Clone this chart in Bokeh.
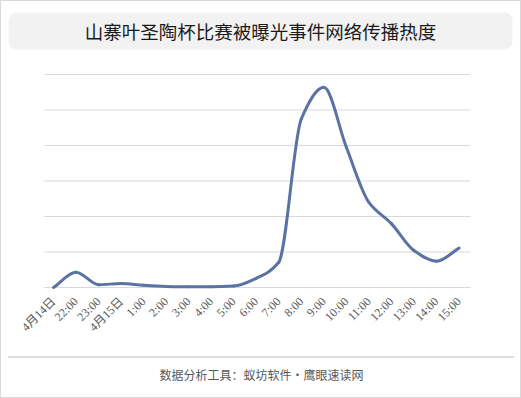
import numpy as np
from bokeh.plotting import figure
from bokeh.layouts import column
from bokeh.models import Range1d, FixedTicker, BoxAnnotation, Label, Arrow
from bokeh.embed import file_html
from bokeh.resources import INLINE

title_text = "山寨叶圣陶杯比赛被曝光事件网络传播热度"
footer_text = "数据分析工具：蚁坊软件・鹰眼速读网"
categories = ["4月14日", "22:00", "23:00", "4月15日", "1:00", "2:00", "3:00", "4:00",
              "5:00", "6:00", "7:00", "8:00", "9:00", "10:00", "11:00", "12:00",
              "13:00", "14:00", "15:00"]
heat = [0, 43, 8, 11, 6, 3, 2, 2, 4, 26, 71, 475, 564, 395, 240, 180, 104, 74, 111]
y_ticks = [0, 100, 200, 300, 400, 500, 600]

W = 519            # inner width (1px css border on each side)
H1, H2 = 345, 51   # main chart / footer heights
FH = 288           # frame height of main chart

def sx(page_x):
    return page_x - 1

def sy(page_y):
    return (1 + FH) - page_y

p = figure(width=W, height=H1, output_backend="svg", toolbar_location=None,
           x_range=Range1d(-2.308, 20.730), y_range=Range1d(-5.63, 805.6),
           min_border_left=0, min_border_right=0, min_border_top=0,
           min_border_bottom=H1 - FH)
p.outline_line_color = None
p.background_fill_color = "white"
p.border_fill_color = "white"
p.grid.visible = False
p.yaxis.visible = False

# horizontal gridlines limited to the plot area
p.segment(x0=[-0.40] * len(y_ticks), x1=[18.51] * len(y_ticks), y0=y_ticks, y1=y_ticks,
          line_color="#d9d9d9", line_width=1)

# smooth line through the points (monotone cubic -> Bezier segments)
xs = np.arange(len(heat), dtype=float)
ys = np.array(heat, dtype=float)
d = np.diff(ys)
m = np.zeros_like(ys)
m[0] = d[0]
m[-1] = d[-1]
for i in range(1, len(ys) - 1):
    if d[i - 1] * d[i] > 0:
        m[i] = 2.0 / (1.0 / d[i - 1] + 1.0 / d[i])
    else:
        m[i] = 0.0
cx0 = xs[:-1] + 1 / 3
cy0 = ys[:-1] + m[:-1] / 3
cx1 = xs[1:] - 1 / 3
cy1 = ys[1:] - m[1:] / 3
p.bezier(x0=xs[:-1], y0=ys[:-1], x1=xs[1:], y1=ys[1:], cx0=cx0, cy0=cy0, cx1=cx1, cy1=cy1,
         line_color="#5a73a3", line_width=3, line_cap="round")

p.xaxis.ticker = FixedTicker(ticks=list(range(len(categories))))
p.xaxis.major_label_overrides = {i: c for i, c in enumerate(categories)}
p.xaxis.major_label_orientation = np.pi / 4
p.xaxis.axis_line_color = None
p.xaxis.major_tick_line_color = None
p.xaxis.minor_tick_line_color = None
p.xaxis.major_label_text_font = "Liberation Serif, Noto Sans CJK SC"
p.xaxis.major_label_text_font_size = "12px"
p.xaxis.major_label_text_color = "#595959"
p.xaxis.major_label_standoff = 4

# title box
p.add_layout(BoxAnnotation(left=sx(8), right=sx(512), top=sy(12), bottom=sy(49),
                           left_units="screen", right_units="screen",
                           top_units="screen", bottom_units="screen",
                           fill_color="#f2f2f2", fill_alpha=1, line_color=None,
                           border_radius=8, level="underlay"))
p.add_layout(Label(x=sx(260), y=sy(30), x_units="screen", y_units="screen",
                   text=title_text, text_align="center", text_baseline="middle",
                   text_font="Noto Sans CJK SC", text_font_size="18.5px", text_color="#1a1a1a"))

# footer
f = figure(width=W, height=H2, output_backend="svg", toolbar_location=None,
           x_axis_type=None, y_axis_type=None, x_range=Range1d(0, W), y_range=Range1d(0, H2),
           min_border=0)
f.outline_line_color = None
f.grid.visible = False
f.border_fill_color = "white"
f.add_layout(Arrow(x_start=7, y_start=H2 - 10.5, x_end=513, y_end=H2 - 10.5,
                   start_units="screen", end_units="screen", start=None, end=None,
                   line_color="#808080", line_width=1, line_dash="1 1"))
f.add_layout(Label(x=260, y=H2 - 28, x_units="screen", y_units="screen",
                   text=footer_text, text_align="center", text_baseline="middle",
                   text_font="Noto Sans CJK SC", text_font_size="12px", text_color="#595959"))

layout = column(p, f, spacing=0, styles={"border": "1px solid #d9d9d9"})
open("out.html", "w").write(file_html(layout, INLINE))
